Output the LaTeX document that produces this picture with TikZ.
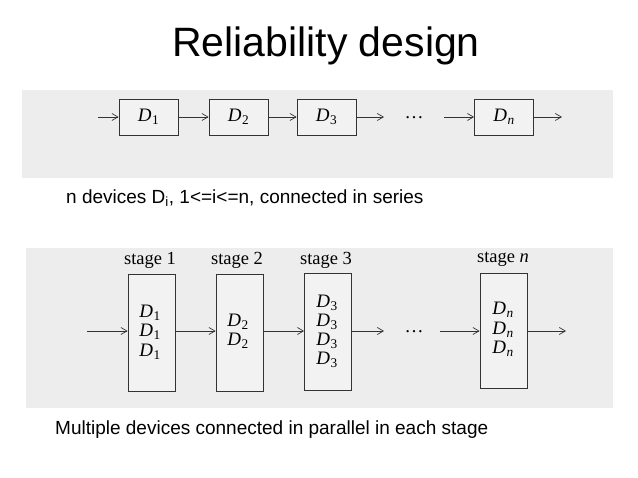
\documentclass[tikz,border=0pt]{standalone}
\usepackage{fontspec}
\setmainfont{Liberation Serif}
\newfontfamily\slidefont{Liberation Sans}
\usetikzlibrary{arrows.meta}
\newcommand{\dev}[1]{\textit{D}\textsubscript{\kern0.5pt#1}}
\begin{document}
\begin{tikzpicture}[x=1pt,y=-1pt,
  band/.style={fill=black!7,draw=none},
  dbox/.style={draw=black!80,line width=0.8pt,fill=black!5,minimum width=59pt,minimum height=36pt,inner sep=0pt,font=\fontsize{19}{19}\selectfont},
  sbox/.style={draw=black!80,line width=0.8pt,fill=black!5,minimum width=47pt,inner sep=0pt},
  conn/.style={-{Straight Barb[length=6pt,width=7pt]},line width=0.7pt,black!80},
  dtxt/.style={font=\fontsize{19}{19}\selectfont,inner sep=0pt},
  dotstxt/.style={font=\fontsize{19}{19}\selectfont,inner sep=0pt,anchor=base},
  stg/.style={font=\fontsize{18.5}{18.5}\selectfont,inner sep=0pt},
  captxt/.style={font=\slidefont\fontsize{19}{19}\selectfont,anchor=west,inner sep=0pt}]
\useasboundingbox (0,0) rectangle (638,478);
\fill[white] (0,0) rectangle (638,478);
\node[font=\slidefont\fontsize{41}{41}\selectfont] (title) at (326,46) {Reliability design};
% top band
\fill[band] (22,90) rectangle (613,178);
\node[dbox] (d1) at (148.5,117) {\dev{1}};
\node[dbox] (d2) at (238.5,117) {\dev{2}};
\node[dbox] (d3) at (326.5,117) {\dev{3}};
\node[dbox] (dn) at (504,117) {\dev{\textit{n}}};
\coordinate (tin) at (98,117);
\coordinate (tout) at (562,117);
\coordinate (t3o) at (384,117);
\coordinate (tni) at (444,117);
\node[dotstxt] (tdots) at (414,119) {\ldots};
\draw[conn] (tin) -- (d1);
\draw[conn] (d1) -- (d2);
\draw[conn] (d2) -- (d3);
\draw[conn] (d3) -- (t3o);
\draw[conn] (tni) -- (dn);
\draw[conn] (dn) -- (tout);
\node[captxt] (cap1) at (66,198) {n devices D\textsubscript{i}, 1<=i<=n, connected in series};
% bottom band
\fill[band] (26,248) rectangle (613,408);
\node[sbox,minimum height=117pt] (s1) at (151.5,332.5) {};
\node[sbox,minimum height=117pt] (s2) at (239.5,332.5) {};
\node[sbox,minimum height=117pt] (s3) at (328,332) {};
\node[sbox,minimum height=115pt] (sn) at (503.5,331) {};
\node[stg] (l1) at (150,260) {stage 1};
\node[stg] (l2) at (237,260) {stage 2};
\node[stg] (l3) at (326,260) {stage 3};
\node[stg] (ln) at (503,259) {stage \textit{n}};
\node[dtxt] (a1) at (150,313) {\dev{1}};
\node[dtxt] (a2) at (150,332) {\dev{1}};
\node[dtxt] (a3) at (150,352) {\dev{1}};
\node[dtxt] (b1) at (238,322) {\dev{2}};
\node[dtxt] (b2) at (238,341) {\dev{2}};
\node[dtxt] (c1) at (327,303) {\dev{3}};
\node[dtxt] (c2) at (327,322) {\dev{3}};
\node[dtxt] (c3) at (327,341) {\dev{3}};
\node[dtxt] (c4) at (327,360) {\dev{3}};
\node[dtxt] (e1) at (503,310) {\dev{\textit{n}}};
\node[dtxt] (e2) at (503,330) {\dev{\textit{n}}};
\node[dtxt] (e3) at (503,349) {\dev{\textit{n}}};
\coordinate (bin) at (87,331);
\coordinate (bout) at (566,331);
\coordinate (b3o) at (384,331);
\coordinate (bni) at (440,331);
\node[dotstxt] (bdots) at (414,333) {\ldots};
\draw[conn] (bin) -- (bin-|s1.west);
\draw[conn] (bin-|s1.east) -- (bin-|s2.west);
\draw[conn] (bin-|s2.east) -- (bin-|s3.west);
\draw[conn] (bin-|s3.east) -- (b3o);
\draw[conn] (bni) -- (bni-|sn.west);
\draw[conn] (bni-|sn.east) -- (bout);
\node[captxt] (cap2) at (55,430) {Multiple devices connected in parallel in each stage};
\end{tikzpicture}
\end{document}
